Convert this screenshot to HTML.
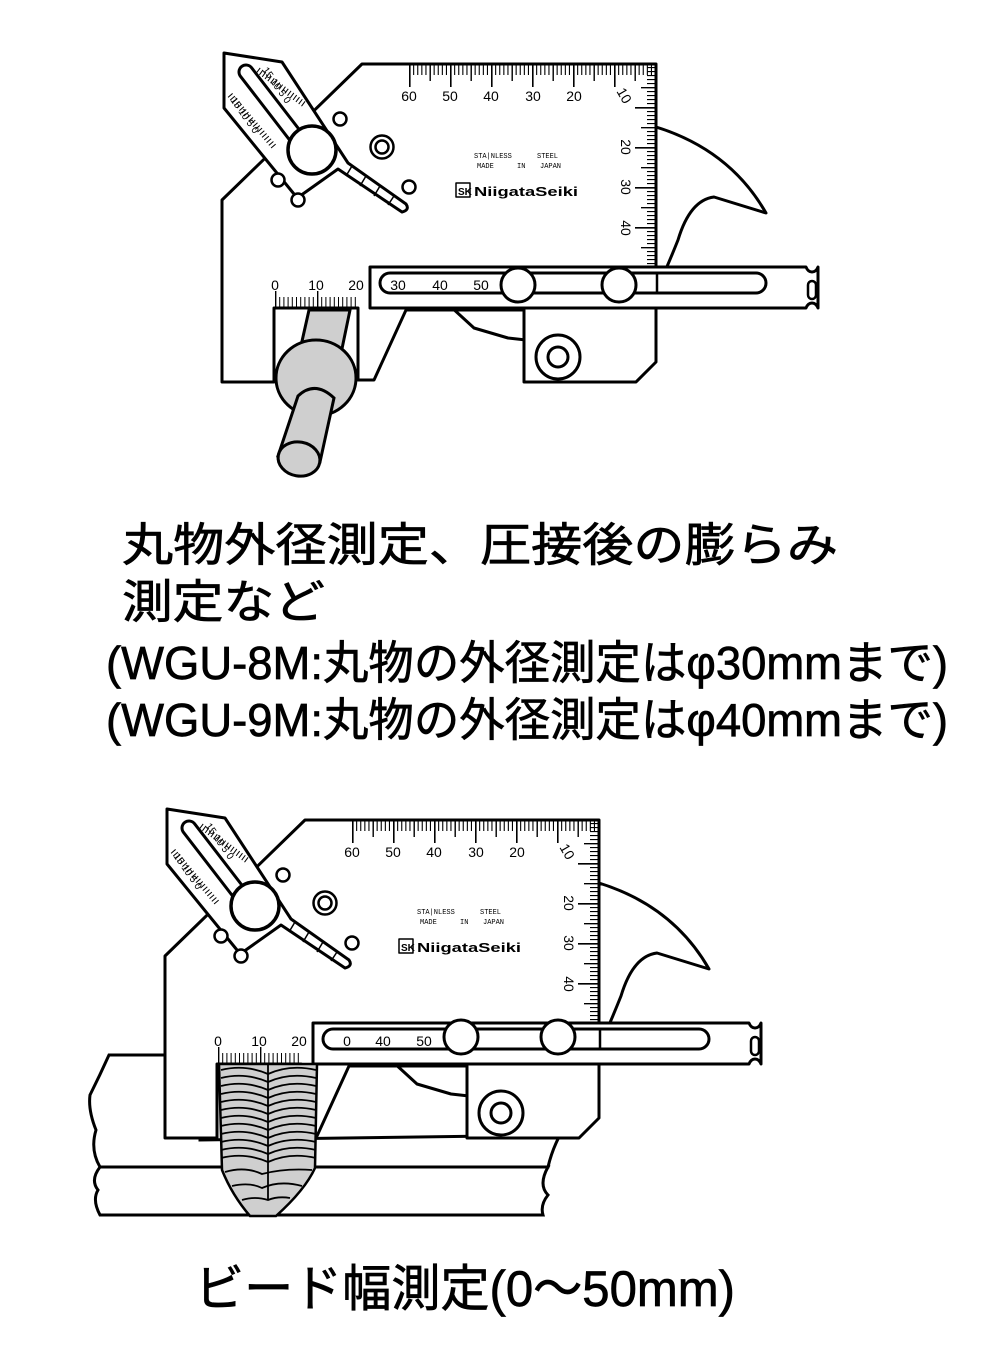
<!DOCTYPE html>
<html><head><meta charset="utf-8"><style>
html,body{margin:0;padding:0;background:#fff}
svg{display:block}
.n{font-family:"Liberation Sans",sans-serif;font-size:14px;fill:#000}
.s{font-family:"Liberation Mono",monospace;font-size:7px;fill:#000}
.j{font-family:"Liberation Sans","Noto Sans CJK JP",sans-serif;fill:#000;stroke:#000;stroke-width:0.7px}
</style></head><body>
<svg width="1000" height="1350" viewBox="0 0 1000 1350" xmlns="http://www.w3.org/2000/svg">
<defs>
<g id="gs" stroke="#000" stroke-width="3" fill="#fff" stroke-linejoin="round">
  <path d="M656,127 Q730,150 766,213 L714,197 Q690,200 678,240 Q668,265 656,292 Z"/>
  <path d="M450,306 L474,328 L508,338 L526,340" fill="none"/>
  <path d="M222,382 L222,200 L362,64 L656,64 L656,362 L636,382 L524,382 L524,310 L406,310 L374,380 L358,380 L358,308 L274,308 L274,382 Z"/>
  <path d="M370,267 L806,267 Q808,272 812,272 Q816,272 818,267 L818,308 Q816,303 812,303 Q808,303 806,308 L370,308 Z"/>
  <rect x="380" y="273" width="386" height="20" rx="10"/>
  <rect x="808" y="281" width="8" height="18" rx="4" stroke-width="2.5"/>
  <line x1="657" y1="273" x2="657" y2="293" stroke-width="2.5"/>
  <circle cx="558" cy="357" r="22"/>
  <circle cx="558" cy="357" r="10"/>
  <g fill="none">
   <line x1="409" y1="70" x2="657" y2="70" stroke-width="10" stroke-dasharray="1.1 3"/>
   <line x1="409" y1="73" x2="657" y2="73" stroke-width="16" stroke-dasharray="1.4 19.1"/>
   <line x1="409" y1="76" x2="657" y2="76" stroke-width="22" stroke-dasharray="1.6 39.4"/>
   <line x1="652" y1="67" x2="652" y2="267" stroke-width="10" stroke-dasharray="1.1 2.9"/>
   <line x1="649" y1="87" x2="649" y2="267" stroke-width="16" stroke-dasharray="1.4 18.6"/>
   <line x1="646" y1="107" x2="646" y2="267" stroke-width="22" stroke-dasharray="1.6 38.4"/>
   <line x1="275" y1="302" x2="358" y2="302" stroke-width="10" stroke-dasharray="1 3.2"/>
   <line x1="275" y1="299" x2="358" y2="299" stroke-width="16" stroke-dasharray="1.4 40.6"/>
  </g>
  <path d="M224,53 L282,62 L348,163 L406,204 Q410,210 402,212 L338,169 L300,196 L294,194 L224,108 Z" stroke-width="3"/>
  <line x1="246" y1="72" x2="300" y2="142" stroke-width="17" stroke-linecap="round"/>
  <line x1="246" y1="72" x2="300" y2="142" stroke="#fff" stroke-width="11" stroke-linecap="round"/>
  <line x1="258" y1="70" x2="305" y2="105" stroke-width="6" stroke-dasharray="1 2.5" fill="none"/>
  <line x1="230" y1="95" x2="275" y2="148" stroke-width="6" stroke-dasharray="1 2.5" fill="none"/>
  <circle cx="312" cy="150" r="24" stroke-width="3.5"/>
  <line x1="352" y1="166" x2="346" y2="176" stroke-width="1.5"/>
  <line x1="366" y1="176" x2="360" y2="186" stroke-width="1.5"/>
  <line x1="380" y1="186" x2="374" y2="196" stroke-width="1.5"/>
  <line x1="394" y1="196" x2="388" y2="205" stroke-width="1.5"/>
  <circle cx="340" cy="119" r="6.5" stroke-width="2.5"/>
  <circle cx="278" cy="180" r="6.5" stroke-width="2.5"/>
  <circle cx="298" cy="200" r="6.5" stroke-width="2.5"/>
  <circle cx="409" cy="187" r="6.5" stroke-width="2.5"/>
  <circle cx="382" cy="147" r="11.5" stroke-width="2.5"/>
  <circle cx="382" cy="147" r="6.5" stroke-width="2.5"/>
  <rect x="456" y="183" width="14" height="14" fill="none" stroke-width="1.5"/>
</g>
</defs>

<use href="#gs"/>
<g stroke="#000" stroke-width="3" fill="#fff">
 <circle cx="518" cy="285" r="17"/>
 <circle cx="619" cy="285" r="17"/>
</g>
<g class="n" text-anchor="middle">
 <text x="409" y="101">60</text><text x="450" y="101">50</text><text x="491" y="101">40</text><text x="533" y="101">30</text><text x="574" y="101">20</text>
 <text transform="translate(620,98) rotate(60)">10</text>
 <text transform="translate(621,147) rotate(90)">20</text>
 <text transform="translate(621,187) rotate(90)">30</text>
 <text transform="translate(621,228) rotate(90)">40</text>
 <text x="275" y="290">0</text><text x="316" y="290">10</text><text x="356" y="290">20</text>
 <text x="398" y="290">30</text><text x="440" y="290">40</text><text x="481" y="290">50</text>
</g>
<g class="s"><text x="474" y="158">STA|NLESS</text><text x="537" y="158">STEEL</text>
<text x="477" y="168">MADE</text><text x="517" y="168">IN</text><text x="540" y="168">JAPAN</text></g>
<text x="458" y="195" font-family="Liberation Sans,sans-serif" font-size="10" font-weight="bold">SK</text>
<text x="474" y="196" font-family="Liberation Sans,sans-serif" font-size="13" font-weight="bold" textLength="104" lengthAdjust="spacingAndGlyphs">NiigataSeiki</text>
<g font-family="Liberation Sans,sans-serif" font-size="10">
 <text transform="translate(262,70) rotate(55)">15 10 5 0</text>
 <text transform="translate(230,100) rotate(55)">15 10 5 0</text>
</g>
<g stroke="#000" stroke-width="3" fill="#cfcfcf">
 <path d="M309,310 L350,310 L338,368 L296,368 Z"/>
 <ellipse cx="316" cy="378" rx="40" ry="38"/>
 <path d="M298,396 Q315,380 334,398 L320,462 L278,456 Z"/>
 <ellipse cx="299" cy="459" rx="21" ry="17" transform="rotate(10 299 459)"/>
</g>

<g stroke="#000" stroke-width="3" fill="#fff">
 <path d="M109,1055 L200,1055 L200,1140 L560,1135 Q552,1150 548,1167 L100,1167 Q90,1150 96,1130 Q88,1110 90,1095 Q100,1075 109,1055 Z"/>
 <path d="M100,1167 L548,1167 Q538,1185 548,1195 Q540,1205 543,1215 L100,1215 Q92,1200 98,1190 Q90,1180 100,1167 Z"/>
</g>
<g transform="translate(-57,756)">
 <use href="#gs"/>
</g>
<g stroke="#000" stroke-width="3" fill="#fff">
 <circle cx="461" cy="1037" r="17"/>
 <circle cx="558" cy="1037" r="17"/>
</g>
<g class="n" text-anchor="middle">
 <text x="352" y="857">60</text><text x="393" y="857">50</text><text x="434" y="857">40</text><text x="476" y="857">30</text><text x="517" y="857">20</text>
 <text transform="translate(563,854) rotate(60)">10</text>
 <text transform="translate(564,903) rotate(90)">20</text>
 <text transform="translate(564,943) rotate(90)">30</text>
 <text transform="translate(564,984) rotate(90)">40</text>
 <text x="218" y="1046">0</text><text x="259" y="1046">10</text><text x="299" y="1046">20</text>
 <text x="347" y="1046">0</text><text x="383" y="1046">40</text><text x="424" y="1046">50</text>
</g>
<g class="s"><text x="417" y="914">STA|NLESS</text><text x="480" y="914">STEEL</text>
<text x="420" y="924">MADE</text><text x="460" y="924">IN</text><text x="483" y="924">JAPAN</text></g>
<text x="401" y="951" font-family="Liberation Sans,sans-serif" font-size="10" font-weight="bold">SK</text>
<text x="417" y="952" font-family="Liberation Sans,sans-serif" font-size="13" font-weight="bold" textLength="104" lengthAdjust="spacingAndGlyphs">NiigataSeiki</text>
<g font-family="Liberation Sans,sans-serif" font-size="10">
 <text transform="translate(205,826) rotate(55)">15 10 5 0</text>
 <text transform="translate(173,856) rotate(55)">15 10 5 0</text>
</g>
<g stroke="#000" stroke-width="2.5">
 <path d="M219,1064 L317,1064 L315,1168 Q305,1190 276,1216 L250,1216 Q232,1195 222,1170 Z" fill="#cfcfcf"/>
 <g fill="none" stroke-width="1.8">
  <path d="M268,1064 L268,1200"/>
  <path d="M221,1070 Q245,1064 268,1074 Q290,1064 316,1070"/>
  <path d="M221,1078 Q245,1072 268,1082 Q290,1072 316,1078"/>
  <path d="M221,1086 Q245,1080 268,1090 Q290,1080 316,1086"/>
  <path d="M221,1094 Q245,1088 268,1098 Q290,1088 316,1094"/>
  <path d="M221,1102 Q245,1096 268,1106 Q290,1096 316,1102"/>
  <path d="M221,1110 Q245,1104 268,1114 Q290,1104 316,1110"/>
  <path d="M221,1118 Q245,1112 268,1122 Q290,1112 316,1118"/>
  <path d="M221,1126 Q245,1120 268,1130 Q290,1120 316,1126"/>
  <path d="M221,1134 Q245,1128 268,1138 Q290,1128 316,1134"/>
  <path d="M221,1142 Q245,1136 268,1146 Q290,1136 316,1142"/>
  <path d="M221,1150 Q245,1144 268,1154 Q290,1144 316,1150"/>
  <path d="M221,1158 Q245,1152 268,1162 Q290,1152 316,1158"/>
  <path d="M225,1172 Q245,1166 262,1174 Q285,1168 312,1170"/>
  <path d="M232,1186 Q250,1182 262,1188 Q280,1180 302,1186"/>
  <path d="M242,1200 Q255,1196 268,1200 Q278,1196 290,1198"/>
 </g>
</g>

<g class="j" font-size="46">
 <text x="122" y="561" textLength="716" lengthAdjust="spacingAndGlyphs">丸物外径測定、圧接後の膨らみ</text>
 <text x="122" y="618" textLength="203" lengthAdjust="spacingAndGlyphs">測定など</text>
 <text x="106" y="679" textLength="842" lengthAdjust="spacingAndGlyphs">(WGU-8M:丸物の外径測定はφ30mmまで)</text>
 <text x="106" y="736" textLength="842" lengthAdjust="spacingAndGlyphs">(WGU-9M:丸物の外径測定はφ40mmまで)</text>
 <text x="195" y="1306" font-size="50" textLength="540" lengthAdjust="spacingAndGlyphs">ビード幅測定(0～50mm)</text>
</g>
</svg>
</body></html>
